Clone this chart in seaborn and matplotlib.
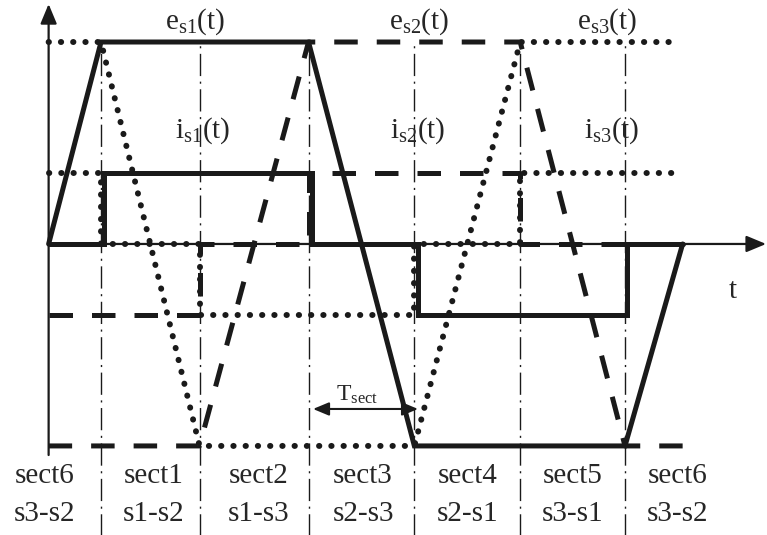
import numpy as np
import pandas as pd
import matplotlib
matplotlib.use("Agg")
import matplotlib.pyplot as plt
import seaborn as sns

sns.set_theme(style="white")
plt.rcParams["font.family"] = ["Liberation Serif", "DejaVu Serif"]
plt.rcParams["mathtext.fontset"] = "custom"
plt.rcParams["mathtext.rm"] = "Liberation Serif"
plt.rcParams["mathtext.it"] = "Liberation Serif:italic"

# sector boundaries (time in sector units)
sector_edges = [0.5, 1.44, 2.48, 3.49, 4.5, 5.5]
b0, b1, b2, b3, b4, b5 = sector_edges

# back-EMF levels and phase current level
E = 1.0
I = 0.35

# trapezoidal back-EMFs
es1_t = [0.0, b0, b2, b3, b5, 6.05]
es1_v = [0.0, E, E, -E, -E, 0.0]
es2_t = [0.0, b1, b2, b4, b5, 6.05]
es2_v = [-E, -E, E, E, -E, -E]
es3_t = [0.0, b0, b1, b3, b4, 5.95]
es3_v = [E, E, -E, -E, E, E]

# 120-degree block phase currents
is1_t = [0.0, 0.53, 0.53, 2.51, 2.51, 3.52, 3.52, 5.52, 5.52, 6.05]
is1_v = [0.0, 0.0, I, I, 0.0, 0.0, -I, -I, 0.0, 0.0]
is2_t = [0.0, b1, b1, b2, b2, b4, b4, b5]
is2_v = [-I, -I, 0.0, 0.0, I, I, 0.0, 0.0]
is3_t = [0.0, b0, b0, b1, b1, b3, b3, b4, b4, 5.95]
is3_v = [I, I, 0.0, 0.0, -I, -I, 0.0, 0.0, I, I]

# sector names and conducting switch pairs
sector_names = ["sect6", "sect1", "sect2", "sect3", "sect4", "sect5", "sect6"]
switch_pairs = ["s3-s2", "s1-s2", "s1-s3", "s2-s3", "s2-s1", "s3-s1", "s3-s2"]
label_centers = [-0.04, 1.0, 2.0, 3.0, 4.0, 5.0, 6.0]

fig = plt.figure(figsize=(7.67, 5.35), dpi=100)
ax = fig.add_axes([0, 0, 1, 1])

LW = 3.6
dotted = dict(linestyle=(0, (0.05, 2.0)), dash_capstyle="round", lw=4.3)
dashed = dict(linestyle=(0, (4.7, 3.8)), dash_capstyle="butt", lw=LW)
solid = dict(linestyle="-", lw=LW, solid_joinstyle="miter")

# sector boundary guides
ax.vlines(sector_edges, -1.45, E, colors="k", lw=1.0,
          linestyles=[(0, (16, 4, 1.5, 4))])

# axes with arrows
ax.annotate("", xy=(0, 1.188), xytext=(0, -1.045),
            arrowprops=dict(arrowstyle="-|>,head_length=0.6,head_width=0.25",
                            mutation_scale=20, lw=1.6, color="k",
                            shrinkA=0, shrinkB=0))
ax.annotate("", xy=(6.846, 0), xytext=(0, 0),
            arrowprops=dict(arrowstyle="-|>,head_length=0.6,head_width=0.25",
                            mutation_scale=20, lw=1.6, color="k",
                            shrinkA=0, shrinkB=0))

def trace(t, v, style):
    df = pd.DataFrame({"t": t, "v": v})
    sns.lineplot(data=df, x="t", y="v", sort=False, estimator=None,
                 color="k", ax=ax, legend=False, **style)

trace(es3_t, es3_v, dotted)
trace(is3_t, is3_v, dotted)
trace(es2_t, es2_v, dashed)
trace(is2_t, is2_v, dashed)
trace(es1_t, es1_v, solid)
trace(is1_t, is1_v, solid)
ax.set_xlim(-0.464, 6.855)
ax.set_ylim(-1.441, 1.208)
ax.axis("off")

fs = 21
for x, name in zip([1.40, 3.54, 5.33], ["s1", "s2", "s3"]):
    ax.text(x, 1.10, r"e$_{\mathrm{%s}}$(t)" % name, ha="center", va="center", fontsize=fs)
for x, name in zip([1.47, 3.52, 5.37], ["s1", "s2", "s3"]):
    ax.text(x, 0.56, r"i$_{\mathrm{%s}}$(t)" % name, ha="center", va="center", fontsize=fs)

ax.text(6.53, -0.233, "t", ha="center", va="center", fontsize=fs)

# sector duration marker
ax.annotate("", xy=(3.525, -0.817), xytext=(2.523, -0.817),
            arrowprops=dict(arrowstyle="<|-|>,head_length=0.6,head_width=0.25",
                            mutation_scale=16, lw=1.5, color="k",
                            shrinkA=0, shrinkB=0))
ax.text(2.94, -0.748, r"T$_{\mathrm{sect}}$", ha="center", va="center", fontsize=17)

for x, n, p in zip(label_centers, sector_names, switch_pairs):
    ax.text(x, -1.149, n, ha="center", va="center", fontsize=fs)
    ax.text(x, -1.337, p, ha="center", va="center", fontsize=fs)

fig.savefig("out.png", dpi=100)
